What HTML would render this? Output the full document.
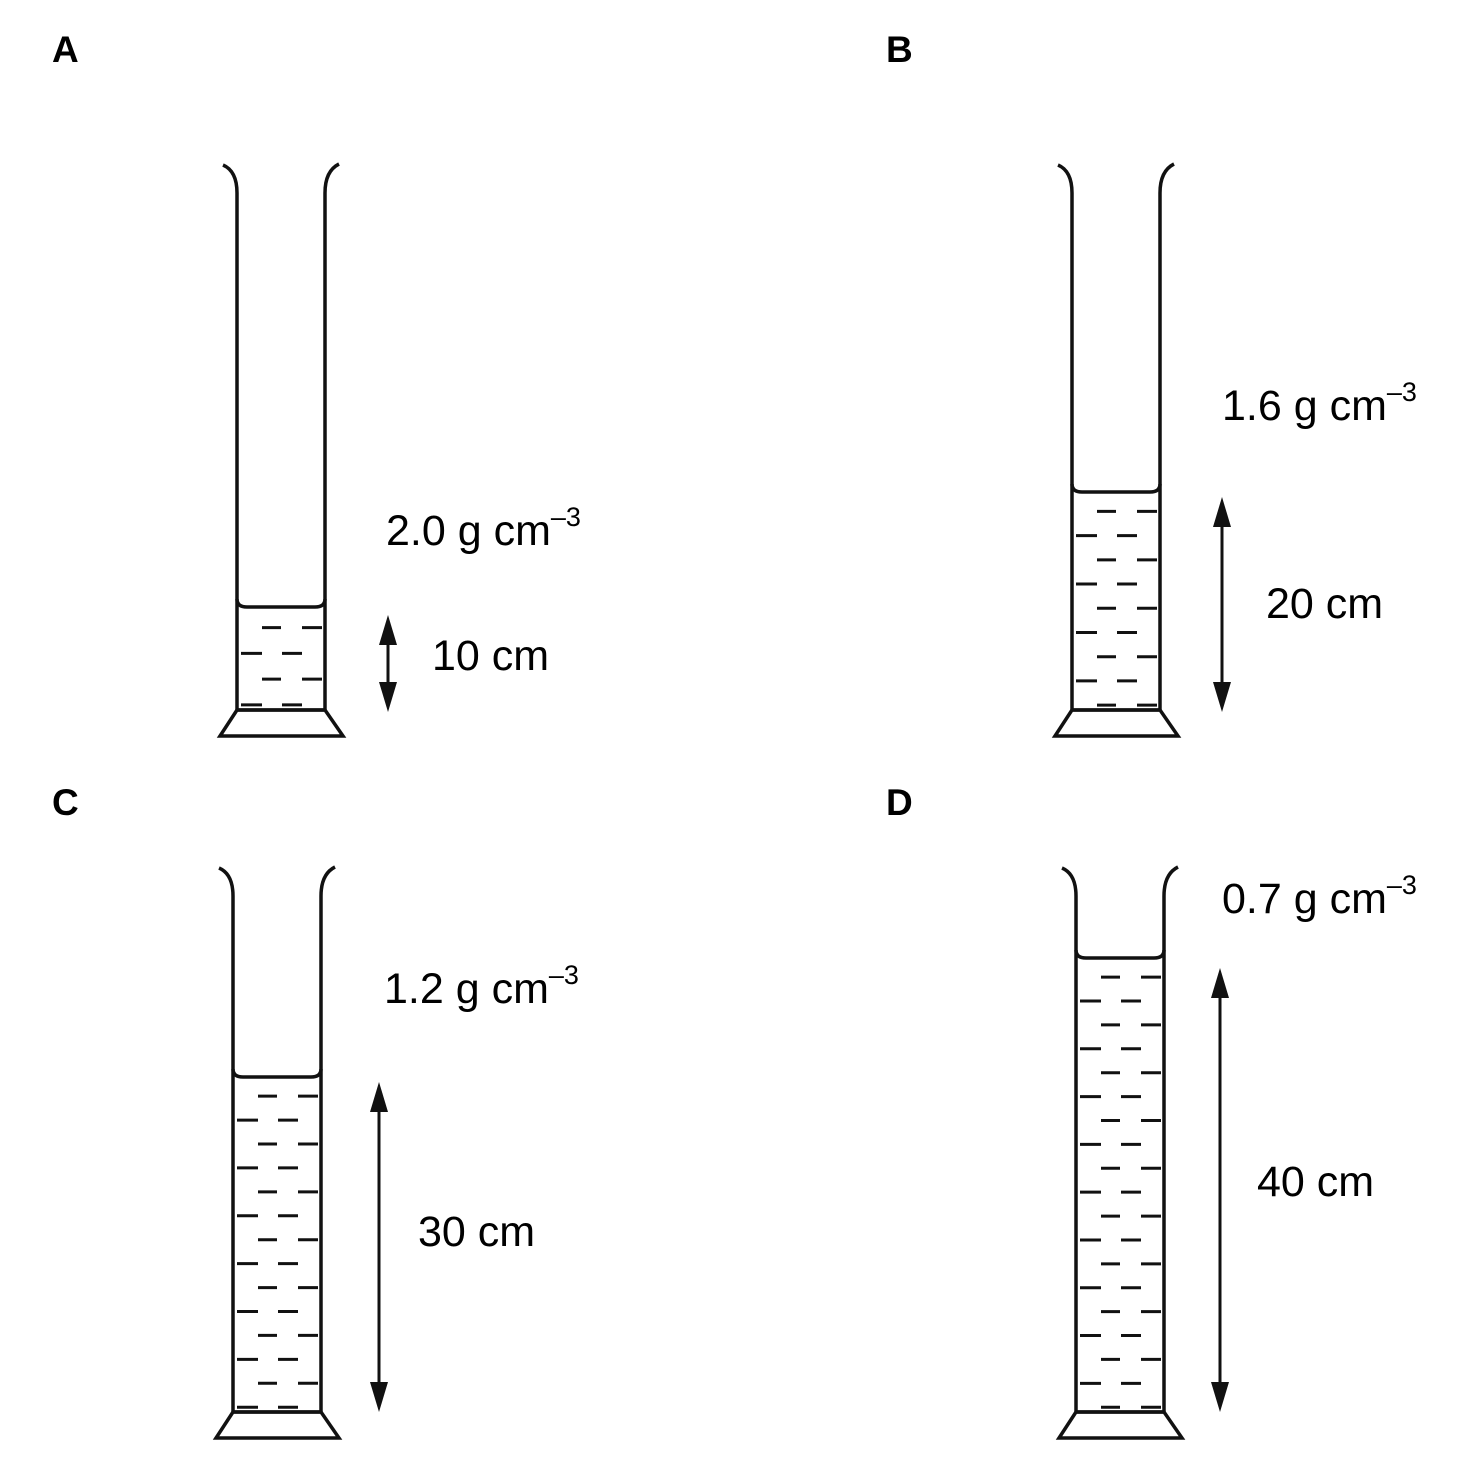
<!DOCTYPE html>
<html><head><meta charset="utf-8"><style>
html,body{margin:0;padding:0;background:#fff}
svg{display:block}
text{font-family:"Liberation Sans",Arial,sans-serif;fill:#000}
</style></head><body>
<svg id="s" width="1476" height="1474" viewBox="0 0 1476 1474" xmlns="http://www.w3.org/2000/svg">
<g font-weight="bold" font-size="37">
<text x="52" y="62">A</text>
<text x="886" y="62">B</text>
<text x="52" y="815">C</text>
<text x="886" y="815">D</text>
</g>
<g font-size="43">
<text x="386" y="545">2.0 g cm<tspan font-size="27" dy="-19">–3</tspan></text>
<text x="432" y="670">10 cm</text>
<text x="1222" y="420">1.6 g cm<tspan font-size="27" dy="-19">–3</tspan></text>
<text x="1266" y="618">20 cm</text>
<text x="384" y="1003">1.2 g cm<tspan font-size="27" dy="-19">–3</tspan></text>
<text x="418" y="1246">30 cm</text>
<text x="1222" y="913">0.7 g cm<tspan font-size="27" dy="-19">–3</tspan></text>
<text x="1257" y="1196">40 cm</text>
</g>
<g id="draw" stroke="#111" fill="none" stroke-width="3.5"></g>
</svg>
<script>
var g=document.getElementById('draw');var NS='http://www.w3.org/2000/svg';
function el(t,a){var e=document.createElementNS(NS,t);for(var k in a)e.setAttribute(k,a[k]);g.appendChild(e);return e;}
function cyl(L,top,surf,bot,n){
 var R=L+88;
 el('path',{d:'M'+(L-14)+' '+top+' Q'+L+' '+(top+6)+' '+L+' '+(top+28)+' L'+L+' '+bot});
 el('path',{d:'M'+(R+14)+' '+(top-1)+' Q'+R+' '+(top+6)+' '+R+' '+(top+28)+' L'+R+' '+bot});
 el('path',{d:'M'+L+' '+(surf-8)+' Q'+L+' '+surf+' '+(L+10)+' '+surf+' L'+(R-10)+' '+surf+' Q'+R+' '+surf+' '+R+' '+(surf-8)});
 el('path',{d:'M'+L+' '+bot+' L'+(L-17)+' '+(bot+26)+' L'+(R+18)+' '+(bot+26)+' L'+R+' '+bot+' Z'});
 el('line',{x1:L,y1:bot,x2:R,y2:bot});
 var dy=(bot-surf)/n;
 for(var i=0;i<n;i++){var y=surf+dy*(i+0.8);
  var d=(i%2==0)?[[25,44],[65,85]]:[[4,25],[45,65]];
  d.forEach(function(p){el('line',{x1:L+p[0],y1:y,x2:L+p[1],y2:y,'stroke-width':3});});
 }
}
function arrow(x,y1,y2){
 el('line',{x1:x,y1:y1+18,x2:x,y2:y2-18,'stroke-width':3});
 el('path',{d:'M'+x+' '+y1+' L'+(x-9)+' '+(y1+30)+' L'+(x+9)+' '+(y1+30)+' Z',fill:'#111',stroke:'none'});
 el('path',{d:'M'+x+' '+y2+' L'+(x-9)+' '+(y2-30)+' L'+(x+9)+' '+(y2-30)+' Z',fill:'#111',stroke:'none'});
}
cyl(237,165,607,710,4);arrow(388,615,712);
cyl(1072,165,492,710,9);arrow(1222,497,712);
cyl(233,868,1077,1412,14);arrow(379,1082,1412);
cyl(1076,868,958,1412,19);arrow(1220,968,1412);
</script>
</body></html>
